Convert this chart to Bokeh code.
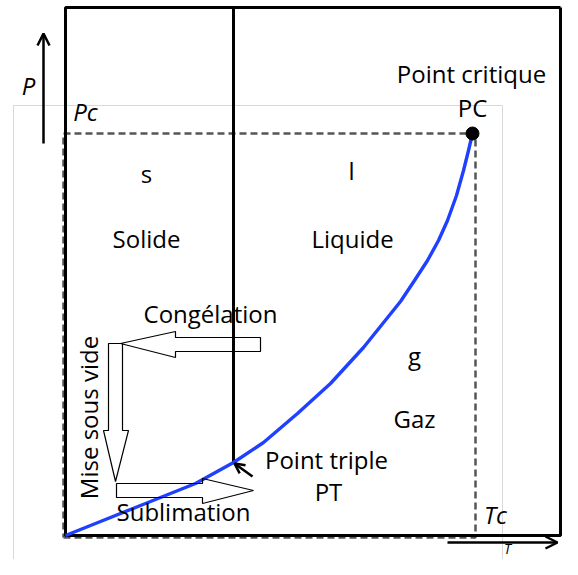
from bokeh.plotting import figure
from bokeh.models import Range1d, Arrow, OpenHead, ColumnDataSource
from bokeh.core.properties import value
from bokeh.embed import file_html
from bokeh.resources import INLINE
import math

# ---- diagram data (T = temperature axis, P = pressure axis, origin at box corner)
curve_T = [0, 30, 80, 130, 168, 198, 232, 265, 298, 335, 349, 362, 373, 382, 391, 398, 403, 407]
curve_P = [0, 12, 32, 52, 73, 93, 122, 152, 188, 234, 255, 275, 295, 315, 340, 365, 385, 402]
triple_T, triple_P = 168, 73
critical_T, critical_P = 407, 402
Tc, Pc = 410, 402
box_T = [0, 495]
box_P = [0, 528]
frame_T = [-52, 437]
frame_P = [-26, 430]

label_text = ["s", "Solide", "l", "Liquide", "g", "Gaz", "Point critique", "PC",
              "Point triple", "PT", "Congélation", "Sublimation"]
label_T = [81, 81, 286, 287, 349, 349, 406, 407, 261, 263, 145, 118]
label_P = [362, 297, 365, 297, 180, 117, 462, 428, 76, 44, 222, 24]

italic_text = ["P", "Pc", "Tc"]
italic_T = [-37, 20, 430]
italic_P = [450, 424, 21]

# block arrows (outlines)
cong_T = [55, 110, 110, 195, 195, 110, 110]
cong_P = [192, 204, 198, 198, 184, 184, 178]
vide_T = [43, 57, 57, 63, 50, 38, 43]
vide_P = [192, 192, 105, 105, 54, 105, 105]
subl_T = [51, 137, 137, 188, 137, 137, 51]
subl_P = [52, 52, 57, 45, 32, 38, 38]

p = figure(width=562, height=559, output_backend="svg", toolbar_location=None,
           x_range=Range1d(-65, 497), y_range=Range1d(-24, 535),
           min_border=0)
p.axis.visible = False
p.grid.visible = False
p.outline_line_color = None
p.background_fill_color = "white"

# light grey frame
p.line([frame_T[0], frame_T[1], frame_T[1], frame_T[0], frame_T[0]],
       [frame_P[0], frame_P[0], frame_P[1], frame_P[1], frame_P[0]],
       line_color="#d9d9d9", line_width=1)

# dashed critical lines
p.line([-2, Tc, Tc, -2, -2], [-2, -2, Pc, Pc, -2],
       line_color="#555555", line_width=2.5, line_dash="7 4")

# thick box
p.line([box_T[1], box_T[0], box_T[0], box_T[1], box_T[1]],
       [box_P[1], box_P[1], box_P[0], box_P[0], box_P[1]],
       line_color="black", line_width=3)
# vertical line from triple point
p.line([triple_T, triple_T], [triple_P, box_P[1]], line_color="black", line_width=3)

# phase curve
p.line(curve_T, curve_P, line_color="#2040ff", line_width=3.4, line_join="round")

# critical point
p.scatter([critical_T], [critical_P], size=13, color="black")

# block arrows
for xs, ys in [(cong_T, cong_P), (vide_T, vide_P), (subl_T, subl_P)]:
    p.patch(xs, ys, fill_color=None, line_color="black", line_width=1.2)

# axis arrows
p.add_layout(Arrow(end=OpenHead(size=12, line_width=2.5, line_color="black"),
                   x_start=-22, y_start=392, x_end=-22, y_end=502,
                   line_width=2.5, line_color="black"))
p.add_layout(Arrow(end=OpenHead(size=12, line_width=2.5, line_color="black"),
                   x_start=382, y_start=-7, x_end=492, y_end=-7,
                   line_width=2.5, line_color="black"))
# triple point pointer
p.add_layout(Arrow(end=OpenHead(size=10, line_width=2.5, line_color="black"),
                   x_start=187, y_start=59, x_end=169, y_end=72,
                   line_width=2.5, line_color="black"))

src = ColumnDataSource(dict(x=label_T, y=label_P, t=label_text))
p.text("x", "y", "t", source=src, text_font=value("Open Sans"),
       text_font_size="24px", text_align="center", text_baseline="middle",
       text_color="black")

src2 = ColumnDataSource(dict(x=italic_T, y=italic_P, t=italic_text))
p.text("x", "y", "t", source=src2, text_font=value("Open Sans"),
       text_font_size="24px", text_font_style="italic", text_align="center",
       text_baseline="middle", text_color="black")

# T label (squeezed under its arrow, inside the picture)
p.text([442], [-22], ["T"], text_font=value("Open Sans"), text_font_size="14px",
       text_font_style="italic", text_align="center", text_baseline="bottom",
       text_color="black")

p.text([23], [118], ["Mise sous vide"], angle=math.pi / 2,
       text_font=value("Open Sans"), text_font_size="24px",
       text_align="center", text_baseline="middle", text_color="black")

open("out.html", "w").write(file_html(p, INLINE))
